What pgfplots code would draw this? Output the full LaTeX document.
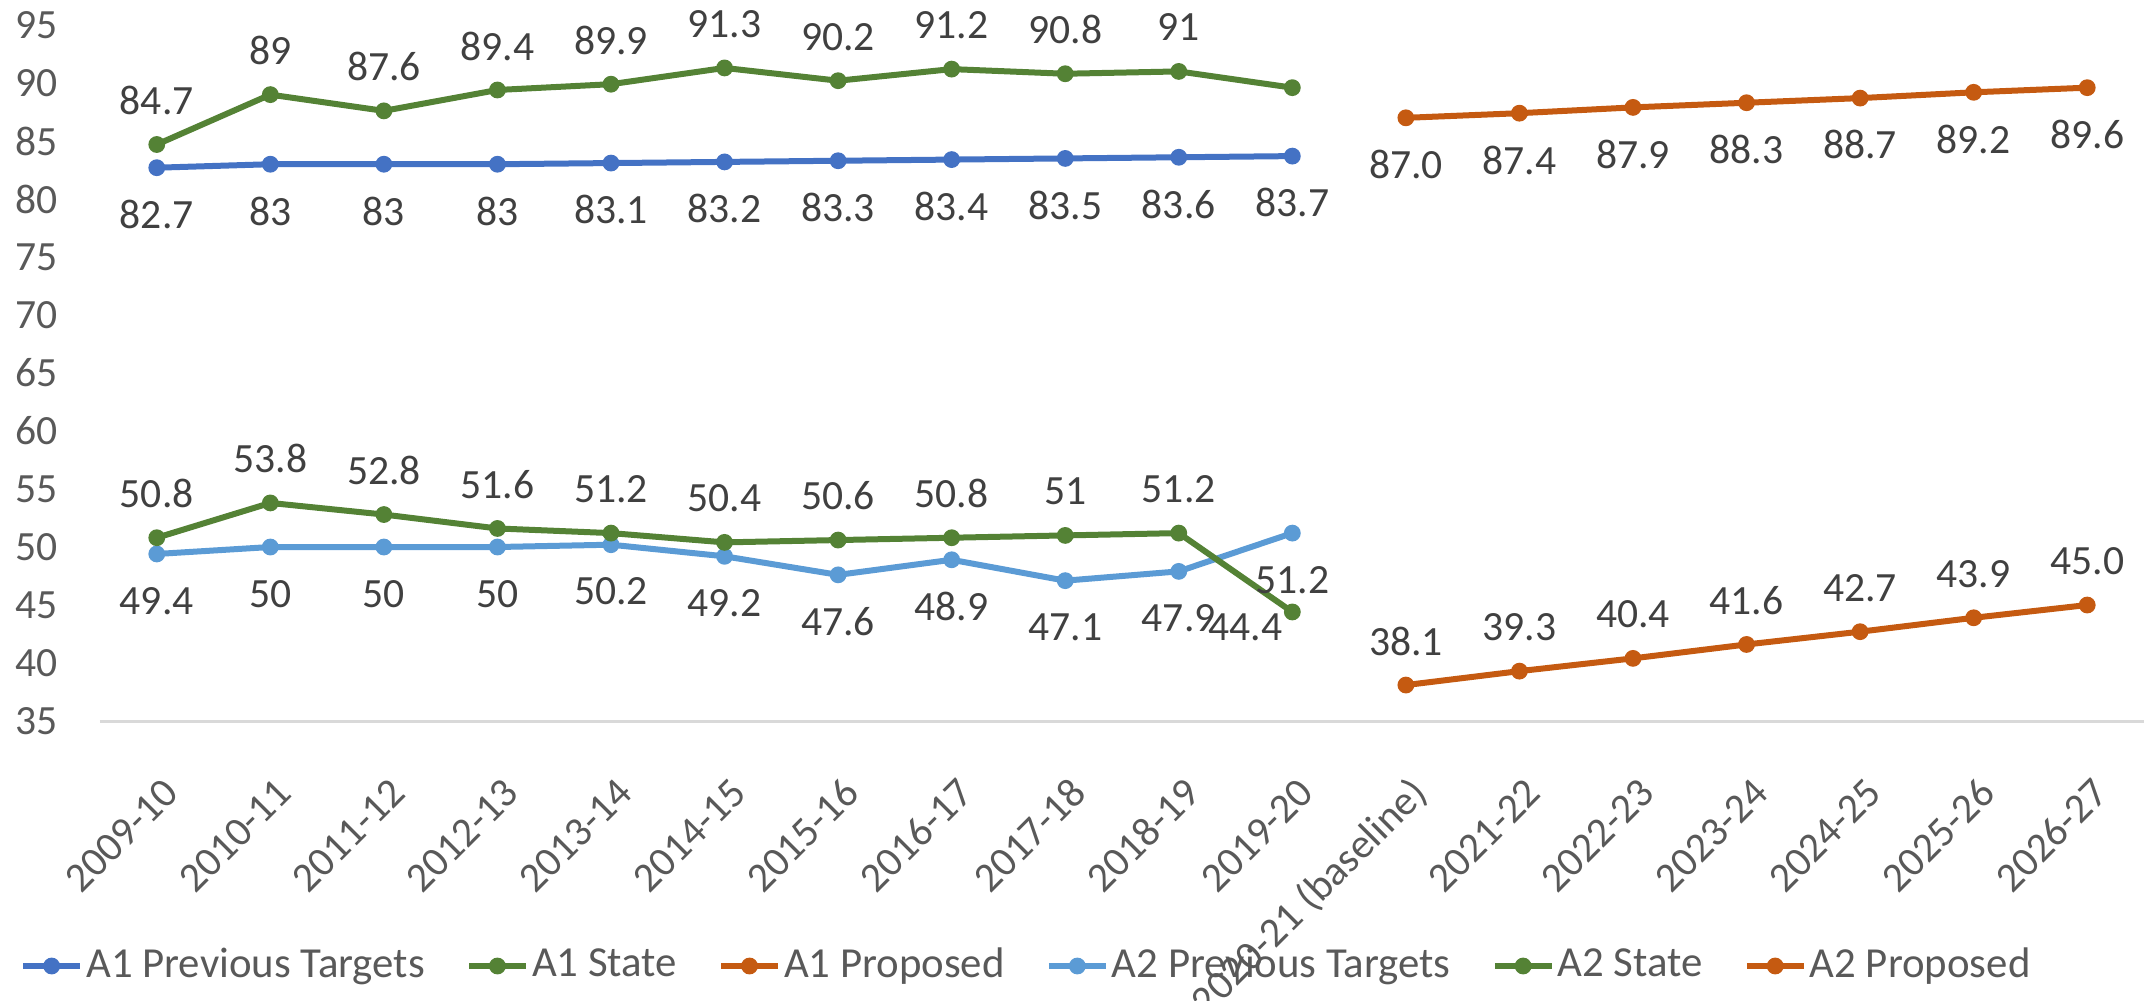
\documentclass[border=0pt]{standalone}
\usepackage{pgfplots}
\pgfplotsset{compat=1.18}
\usepackage{pgfplotstable}
\usepackage{fontspec}
\setmainfont{Carlito}
\definecolor{cA}{HTML}{4472C4}
\definecolor{cG}{HTML}{548235}
\definecolor{cO}{HTML}{C55A11}
\definecolor{cL}{HTML}{5B9BD5}
\definecolor{tickc}{HTML}{595959}
\definecolor{labc}{HTML}{404040}
\definecolor{axl}{HTML}{D9D9D9}
\pgfkeys{/pgf/number format/assume math mode=true}
\newcommand\fs{\fontsize{10.4}{12.5}\selectfont}
\newcommand\fl{\fontsize{10.7}{12.8}\selectfont}

\pgfplotstableread{
x a1prev a1state a2prev a2state
0 82.7 84.7 49.4 50.8
1 83   89   50   53.8
2 83   87.6 50   52.8
3 83   89.4 50   51.6
4 83.1 89.9 50.2 51.2
5 83.2 91.3 49.2 50.4
6 83.3 90.2 47.6 50.6
7 83.4 91.2 48.9 50.8
8 83.5 90.8 47.1 51
9 83.6 91   47.9 51.2
10 83.7 89.6 51.2 44.4
}\hist

\pgfplotstableread{
x a1prop a2prop
11 87.0 38.1
12 87.4 39.3
13 87.9 40.4
14 88.3 41.6
15 88.7 42.7
16 89.2 43.9
17 89.6 45.0
}\prop

\pgfplotsset{
  labA/.style={nodes near coords, every node near coord/.append style={font=\fs, text=labc, anchor=center, inner sep=0pt, yshift=11pt}},
  labB/.style={nodes near coords, every node near coord/.append style={font=\fs, text=labc, anchor=center, inner sep=0pt, yshift=-11.7pt}},
  onedec/.style={nodes near coords={\pgfmathprintnumber[fixed,fixed zerofill,precision=1]{\pgfplotspointmeta}}},
}

\begin{document}
\begin{tikzpicture}
\begin{axis}[
  scale only axis, width=511pt, height=174pt,
  xmin=-0.5, xmax=17.5, ymin=35, ymax=95,
  xtick={0,...,17},
  xticklabels={2009-10,2010-11,2011-12,2012-13,2013-14,2014-15,2015-16,2016-17,2017-18,2018-19,2019-20,2020-21 (baseline),2021-22,2022-23,2023-24,2024-25,2025-26,2026-27},
  ytick={35,40,...,95},
  axis x line*=bottom, axis y line*=left,
  x axis line style={draw=axl, line width=0.75pt},
  y axis line style={draw=none},
  major tick length=0pt,
  tick label style={font=\fs, text=tickc},
  yticklabel style={anchor=east, inner sep=0pt, xshift=-10.5pt},
  xticklabel style={inner sep=0pt, xshift=6pt, yshift=-18.5pt, rotate=45, anchor=base east},
  clip=false,
  every axis plot/.append style={line width=1.5pt, mark=*, mark size=1.9pt, mark options={line width=0.4pt}},
  legend columns=6,
  legend style={at={(axis description cs:0.4535,-0.352)}, anchor=center, draw=none, fill=none, font=\fl, inner sep=0pt,
    nodes={inner sep=0.8pt, text=tickc},
    /tikz/every even column/.append style={column sep=9.5pt}},
  legend image code/.code={\draw[#1, mark repeat=2, mark phase=2] plot coordinates {(0pt,0pt) (7.1pt,0pt) (14.2pt,0pt)};},
]
\addplot[color=cA, labB] table[x=x, y=a1prev]{\hist};
\addlegendentry{A1 Previous Targets}
\addplot[color=cG] table[x=x, y=a1state]{\hist};
\addlegendentry{A1 State}
\addplot[color=cO, labB, onedec] table[x=x, y=a1prop]{\prop};
\addlegendentry{A1 Proposed}
\addplot[color=cL, labB] table[x=x, y=a2prev]{\hist};
\addlegendentry{A2 Previous Targets}
\addplot[color=cG] table[x=x, y=a2state]{\hist};
\addlegendentry{A2 State}
\addplot[color=cO, labA, onedec] table[x=x, y=a2prop]{\prop};
\addlegendentry{A2 Proposed}
% labels of the State series
\addplot[forget plot, draw=none, mark=none, labA, restrict x to domain=0:9] table[x=x, y=a1state]{\hist};
\addplot[forget plot, draw=none, mark=none, labA, restrict x to domain=0:9] table[x=x, y=a2state]{\hist};
\addplot[forget plot, draw=none, mark=none, nodes near coords,
  every node near coord/.append style={font=\fs, text=labc, anchor=center, inner sep=0pt, xshift=-11.75pt, yshift=-3.75pt},
  restrict x to domain=10:10] table[x=x, y=a2state]{\hist};
\end{axis}
\pgfresetboundingbox
\path (-25pt,-69.75pt) rectangle (513.5pt,180.25pt);
\end{tikzpicture}
\end{document}
